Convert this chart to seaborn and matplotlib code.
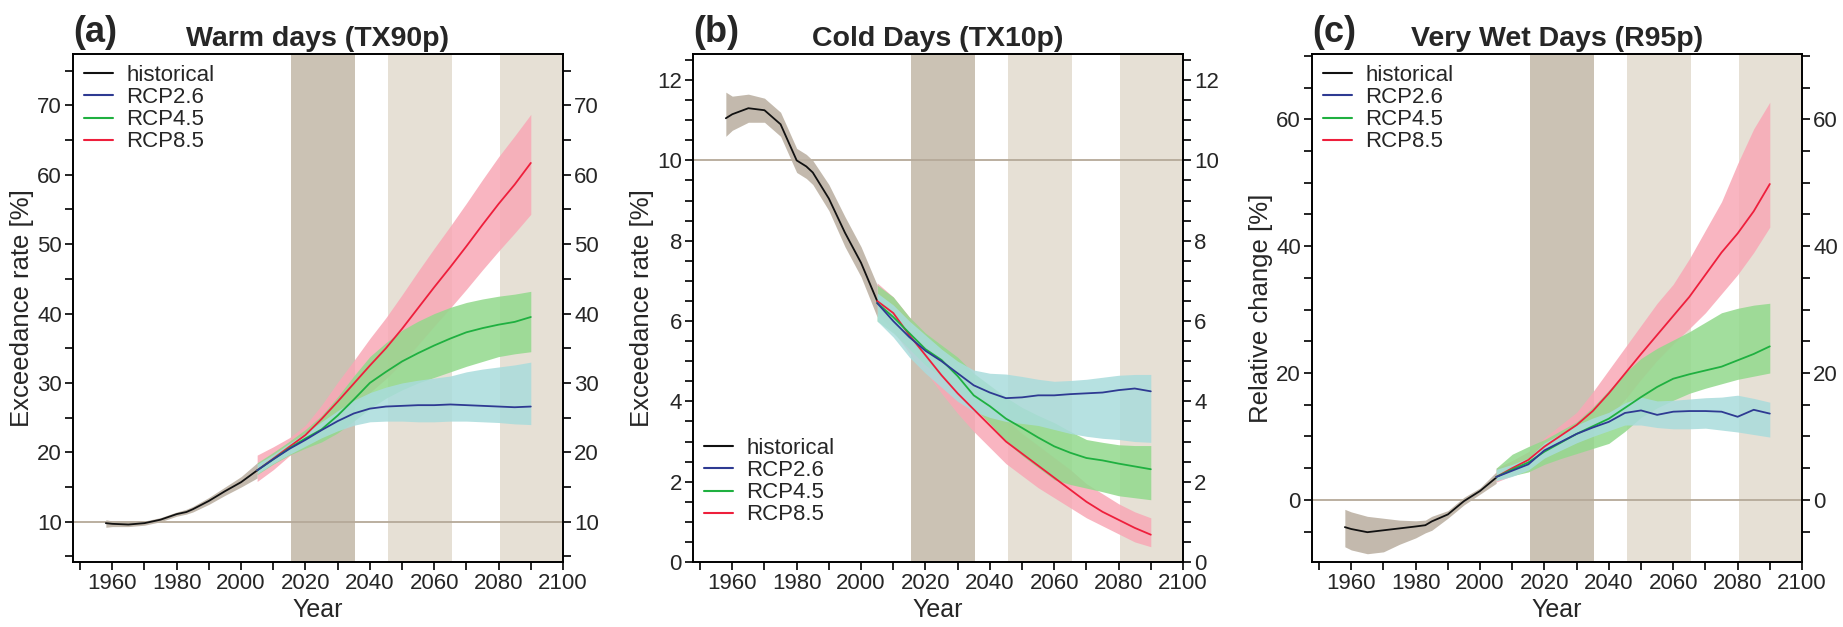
import numpy as np
import pandas as pd
import matplotlib
matplotlib.use("Agg")
import matplotlib.pyplot as plt
import seaborn as sns
from matplotlib.ticker import MultipleLocator
from matplotlib.lines import Line2D

# ---------------- data ----------------
hist_years = [1958, 1960, 1965, 1970, 1975, 1980, 1983, 1985, 1990, 1995, 2000, 2005]
rcp_years = [2005, 2010, 2015, 2020, 2025, 2030, 2035, 2040, 2045, 2050,
             2055, 2060, 2065, 2070, 2075, 2080, 2085, 2090]

# (a) Warm days (TX90p)
a_hist = [9.8, 9.7, 9.6, 9.8, 10.3, 11.1, 11.4, 11.8, 13.0, 14.4, 15.7, 17.4]
a_hist_lo = [9.2, 9.3, 9.3, 9.5, 10.0, 10.8, 11.1, 11.4, 12.5, 13.8, 15.0, 16.3]
a_hist_hi = [10.3, 10.1, 9.9, 10.1, 10.6, 11.4, 11.8, 12.2, 13.5, 15.0, 16.5, 18.5]
a_26 = [17.4, 19.0, 20.5, 21.8, 23.2, 24.5, 25.6, 26.3, 26.6, 26.7, 26.8, 26.8, 26.9, 26.8, 26.7, 26.6, 26.5, 26.6]
a_26_lo = [16.9, 18.4, 19.7, 20.9, 22.1, 23.1, 23.9, 24.4, 24.5, 24.5, 24.4, 24.4, 24.5, 24.5, 24.4, 24.3, 24.1, 24.0]
a_26_hi = [18.3, 19.7, 21.3, 22.8, 24.4, 26.0, 27.5, 28.6, 29.4, 30.0, 30.4, 30.7, 31.0, 31.6, 32.0, 32.3, 32.6, 33.0]
a_45 = [17.4, 19.0, 20.6, 22.0, 23.3, 25.3, 27.6, 30.0, 31.6, 33.1, 34.3, 35.4, 36.4, 37.3, 37.9, 38.4, 38.8, 39.5]
a_45_lo = [16.8, 18.3, 19.6, 20.6, 21.5, 22.8, 24.5, 26.3, 27.8, 29.0, 30.0, 30.8, 31.6, 32.4, 33.1, 33.8, 34.2, 34.5]
a_45_hi = [18.5, 20.0, 21.6, 23.3, 25.3, 28.0, 31.0, 33.8, 35.8, 37.6, 38.9, 40.0, 40.9, 41.6, 42.1, 42.5, 42.8, 43.2]
a_85 = [17.4, 19.1, 20.8, 22.5, 24.8, 27.3, 29.9, 32.5, 35.0, 37.8, 40.8, 43.8, 46.7, 49.7, 52.8, 55.8, 58.6, 61.7]
a_85_lo = [15.8, 17.5, 19.5, 21.1, 22.8, 24.5, 26.6, 28.6, 30.6, 32.9, 35.5, 38.2, 40.8, 43.5, 46.3, 49.0, 51.6, 54.3]
a_85_hi = [19.6, 20.8, 22.1, 23.9, 26.8, 30.1, 33.2, 36.4, 39.4, 42.7, 46.1, 49.4, 52.6, 55.9, 59.3, 62.6, 65.6, 68.7]

# (b) Cold days (TX10p)
b_hist = [11.05, 11.15, 11.3, 11.25, 10.9, 10.0, 9.85, 9.7, 9.05, 8.2, 7.45, 6.5]
b_hist_lo = [10.6, 10.75, 10.95, 10.95, 10.6, 9.7, 9.55, 9.4, 8.75, 7.85, 7.1, 6.1]
b_hist_hi = [11.7, 11.6, 11.65, 11.55, 11.2, 10.3, 10.15, 10.0, 9.4, 8.6, 7.85, 6.9]
b_26 = [6.45, 6.0, 5.6, 5.26, 5.0, 4.7, 4.4, 4.22, 4.08, 4.1, 4.15, 4.15, 4.18, 4.2, 4.22, 4.28, 4.32, 4.25]
b_26_lo = [6.0, 5.6, 5.1, 4.7, 4.35, 4.0, 3.75, 3.6, 3.5, 3.45, 3.4, 3.3, 3.2, 3.13, 3.08, 3.05, 3.0, 2.98]
b_26_hi = [6.7, 6.4, 6.0, 5.65, 5.3, 5.0, 4.78, 4.7, 4.68, 4.62, 4.55, 4.5, 4.52, 4.55, 4.6, 4.65, 4.67, 4.67]
b_45 = [6.45, 6.1, 5.7, 5.3, 5.03, 4.63, 4.15, 3.88, 3.57, 3.34, 3.1, 2.88, 2.72, 2.59, 2.53, 2.45, 2.38, 2.31]
b_45_lo = [6.0, 5.7, 5.3, 4.9, 4.6, 4.3, 3.85, 3.45, 3.0, 2.65, 2.35, 2.05, 1.93, 1.84, 1.75, 1.65, 1.6, 1.55]
b_45_hi = [6.9, 6.6, 6.1, 5.7, 5.4, 5.1, 4.7, 4.4, 4.1, 3.85, 3.65, 3.47, 3.25, 3.05, 2.98, 2.92, 2.9, 2.9]
b_85 = [6.5, 6.2, 5.65, 5.15, 4.65, 4.2, 3.8, 3.4, 3.0, 2.7, 2.4, 2.1, 1.8, 1.5, 1.25, 1.05, 0.85, 0.68]
b_85_lo = [6.2, 5.75, 5.2, 4.75, 4.2, 3.7, 3.25, 2.85, 2.45, 2.15, 1.85, 1.6, 1.35, 1.1, 0.9, 0.7, 0.5, 0.38]
b_85_hi = [6.95, 6.6, 6.1, 5.65, 5.15, 4.7, 4.35, 3.95, 3.55, 3.2, 2.9, 2.6, 2.3, 1.95, 1.7, 1.45, 1.25, 1.1]

# (c) Very wet days (R95p)
c_hist = [-4.3, -4.6, -5.1, -4.8, -4.5, -4.2, -4.0, -3.4, -2.3, -0.2, 1.4, 3.5]
c_hist_lo = [-7.4, -7.9, -8.5, -8.2, -7.0, -6.0, -5.2, -4.8, -2.9, -0.8, 0.9, 2.6]
c_hist_hi = [-1.5, -1.9, -2.6, -2.9, -3.2, -3.3, -3.2, -2.6, -1.7, 0.4, 1.9, 4.4]
c_26 = [3.6, 4.6, 5.6, 7.8, 9.1, 10.4, 11.4, 12.3, 13.7, 14.1, 13.4, 13.9, 14.0, 14.0, 13.9, 13.1, 14.2, 13.6]
c_26_lo = [3.0, 3.7, 4.7, 6.6, 7.8, 9.0, 10.0, 10.9, 11.8, 11.8, 11.4, 11.2, 11.2, 11.3, 11.0, 10.7, 10.3, 9.9]
c_26_hi = [4.8, 5.6, 6.6, 9.0, 10.4, 11.8, 12.9, 13.8, 15.3, 16.2, 15.6, 15.7, 15.9, 16.1, 16.2, 16.5, 16.0, 15.4]
c_45 = [3.6, 4.8, 5.9, 7.6, 9.0, 10.4, 11.6, 12.8, 14.5, 16.2, 17.8, 19.1, 19.8, 20.4, 21.0, 22.0, 23.0, 24.2]
c_45_lo = [3.2, 3.8, 4.4, 5.6, 6.5, 7.3, 8.1, 8.9, 10.8, 13.0, 14.5, 15.7, 16.8, 17.6, 18.3, 19.0, 19.5, 20.0]
c_45_hi = [5.0, 7.2, 8.4, 9.5, 10.9, 12.3, 14.6, 17.3, 20.0, 22.3, 23.9, 25.2, 26.5, 28.0, 29.5, 30.2, 30.7, 31.0]
c_85 = [3.6, 5.0, 6.3, 8.4, 10.1, 11.8, 14.0, 16.8, 19.9, 23.0, 26.0, 29.0, 32.0, 35.5, 39.0, 42.0, 45.5, 49.8]
c_85_lo = [2.8, 3.8, 5.0, 6.8, 8.2, 9.8, 11.2, 13.0, 15.8, 19.0, 22.0, 24.6, 27.0, 29.5, 32.5, 35.5, 39.0, 43.0]
c_85_hi = [5.0, 6.2, 7.6, 9.8, 11.8, 13.8, 17.0, 20.5, 24.0, 27.5, 31.0, 34.0, 38.0, 42.5, 47.0, 53.0, 58.5, 62.7]

panel_letters = ["(a)", "(b)", "(c)"]
panel_titles = ["Warm days (TX90p)", "Cold Days (TX10p)", "Very Wet Days (R95p)"]
panel_ylabels = ["Exceedance rate [%]", "Exceedance rate [%]", "Relative change [%]"]
series_labels = ["historical", "RCP2.6", "RCP4.5", "RCP8.5"]
x_ticks = [1960, 1980, 2000, 2020, 2040, 2060, 2080, 2100]

# ---------------- style ----------------
sns.set_theme(style="ticks")
plt.rcParams["font.family"] = ["Liberation Sans", "DejaVu Sans"]

line_cols = {"historical": "#111111", "RCP2.6": "#2e3a92", "RCP4.5": "#1fb040", "RCP8.5": "#ee1f3c"}
band_cols = {"historical": "#bdb2a4", "RCP2.6": "#a9dcdc", "RCP4.5": "#92d98c", "RCP8.5": "#f8a8b6"}
dark_band = "#cbc2b4"
light_band = "#e6e0d5"
ref_col = "#b5a999"

panels = [
    dict(hist=(a_hist, a_hist_lo, a_hist_hi), r26=(a_26, a_26_lo, a_26_hi), r45=(a_45, a_45_lo, a_45_hi),
         r85=(a_85, a_85_lo, a_85_hi), ylim=(4.2, 77.4), major=10, minor=5, ref=10, legend="upper"),
    dict(hist=(b_hist, b_hist_lo, b_hist_hi), r26=(b_26, b_26_lo, b_26_hi), r45=(b_45, b_45_lo, b_45_hi),
         r85=(b_85, b_85_lo, b_85_hi), ylim=(0, 12.65), major=2, minor=0.5, ref=10, legend="lower"),
    dict(hist=(c_hist, c_hist_lo, c_hist_hi), r26=(c_26, c_26_lo, c_26_hi), r45=(c_45, c_45_lo, c_45_hi),
         r85=(c_85, c_85_lo, c_85_hi), ylim=(-9.8, 70.3), major=20, minor=5, ref=0, legend="upper"),
]

W, H = 1843, 627
fig = plt.figure(figsize=(W / 100, H / 100), dpi=100)
lefts = [73, 693, 1312]
ax_w = 490
ax_bottom, ax_top = 562, 54

for i, p in enumerate(panels):
    ax = fig.add_axes([lefts[i] / W, 1 - ax_bottom / H, ax_w / W, (ax_bottom - ax_top) / H])
    ax.set_facecolor("white")
    ax.axvspan(2015.5, 2035.5, color=dark_band, lw=0, zorder=0.5)
    ax.axvspan(2045.5, 2065.5, color=light_band, lw=0, zorder=0.5)
    ax.axvspan(2080.5, 2100, color=light_band, lw=0, zorder=0.5)
    ax.axhline(p["ref"], color=ref_col, lw=1.3, zorder=1)

    # uncertainty bands
    for key, name in [("r85", "RCP8.5"), ("r45", "RCP4.5"), ("r26", "RCP2.6")]:
        m, lo, hi = p[key]
        ax.fill_between(rcp_years, lo, hi, color=band_cols[name], alpha=0.85, lw=0, zorder=2)
    m, lo, hi = p["hist"]
    ax.fill_between(hist_years, lo, hi, color=band_cols["historical"], alpha=0.9, lw=0, zorder=2)

    # mean lines
    df_h = pd.DataFrame({"year": hist_years, "value": p["hist"][0]})
    sns.lineplot(data=df_h, x="year", y="value", color=line_cols["historical"], lw=1.3, ax=ax, zorder=4)
    for key, name in [("r85", "RCP8.5"), ("r45", "RCP4.5"), ("r26", "RCP2.6")]:
        df = pd.DataFrame({"year": rcp_years, "value": p[key][0]})
        sns.lineplot(data=df, x="year", y="value", color=line_cols[name], lw=1.3, ax=ax, zorder=4)

    ax.set_xlim(1947.8, 2100)
    ax.set_ylim(*p["ylim"])
    ax.set_xticks(x_ticks)
    ax.xaxis.set_minor_locator(MultipleLocator(10))
    ax.yaxis.set_major_locator(MultipleLocator(p["major"]))
    ax.yaxis.set_minor_locator(MultipleLocator(p["minor"]))
    ax.tick_params(axis="both", which="both", direction="out", length=6, width=1.2,
                   color="black", labelsize=16, pad=2)
    ax.tick_params(axis="y", which="both", left=True, right=True, labelleft=True, labelright=True)
    ax.tick_params(axis="x", which="both", bottom=True, top=False)
    for s in ax.spines.values():
        s.set_visible(True)
        s.set_linewidth(1.4)
        s.set_color("black")
    ax.set_xlabel("Year", fontsize=18, labelpad=3)
    ax.set_ylabel(panel_ylabels[i], fontsize=18.5, labelpad=2)
    ax.set_title(panel_titles[i], fontsize=20.5, fontweight="bold", pad=6)
    fig.text(lefts[i] / W, 1 - 32 / H, panel_letters[i], fontsize=26, fontweight="bold",
             ha="left", va="center")

    handles = [Line2D([], [], color=line_cols[n], lw=1.5) for n in series_labels]
    if p["legend"] == "upper":
        ax.legend(handles, series_labels, loc="upper left", frameon=False, fontsize=16,
                  handlelength=1.3, handletextpad=0.6, labelspacing=0.05,
                  borderaxespad=0.3, borderpad=0.2)
    else:
        ax.legend(handles, series_labels, loc="lower left", bbox_to_anchor=(0.0, 0.05),
                  frameon=False, fontsize=16, handlelength=1.3, handletextpad=0.6,
                  labelspacing=0.05, borderaxespad=0.3, borderpad=0.2)

fig.savefig("out.png", dpi=100)
